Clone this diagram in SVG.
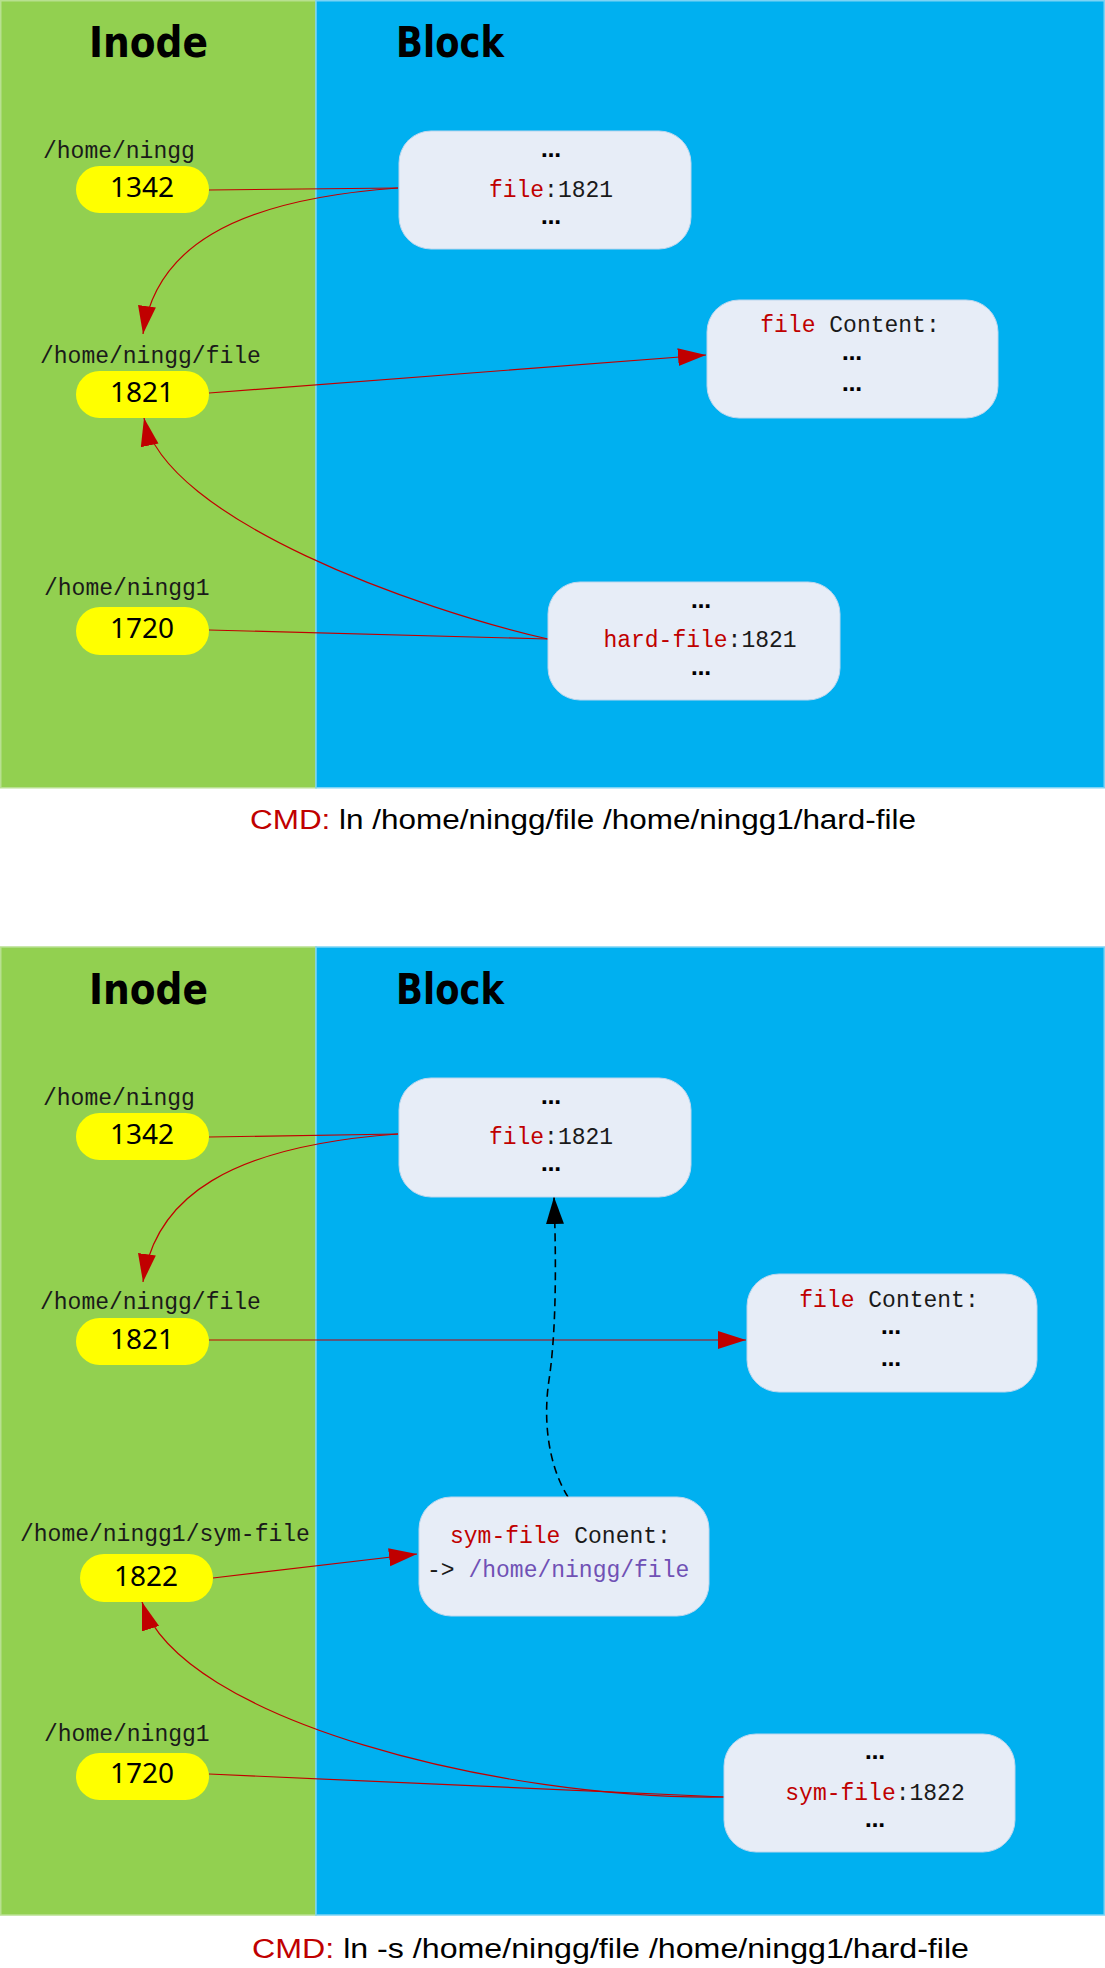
<svg xmlns="http://www.w3.org/2000/svg" width="1105" height="1968" viewBox="0 0 1105 1968">
<style>
.pg{fill:#92D050;stroke:#B8E090;stroke-width:1.5}
.pb{fill:#00B0F0;stroke:#7CD3F5;stroke-width:1.5}
.title{font-family:"DejaVu Sans",sans-serif;font-weight:bold;font-size:42px;fill:#000}
.pill{fill:#FFFF00}
.num{font-family:"Noto Sans","DejaVu Sans",sans-serif;font-size:28px;fill:#000;text-anchor:middle}
.lbl{font-family:"Liberation Mono","DejaVu Sans Mono",monospace;font-size:23px;fill:#1a1a1a}
.blk{fill:#E7EDF7;stroke:#BCD6EE;stroke-width:1}
.mono{font-family:"Liberation Mono","DejaVu Sans Mono",monospace;font-size:23px;fill:#1a1a1a}
.dots{font-family:"DejaVu Sans",sans-serif;font-weight:bold;font-size:20px;fill:#000;text-anchor:middle}
.red{fill:#C00000}
.pur{fill:#7051B5}
.cmd{font-family:"Liberation Sans","DejaVu Sans",sans-serif;font-size:27px;fill:#000}
.ln{fill:none;stroke:#C00000;stroke-width:1.2}
.dash{fill:none;stroke:#000;stroke-width:1.6;stroke-dasharray:8,5}
</style>
<defs>
<marker id="ar" markerUnits="userSpaceOnUse" markerWidth="30" markerHeight="20" refX="28" refY="9" orient="auto"><path d="M0,0 L28,9 L0,18 z" fill="#C00000"/></marker>
<marker id="ab" markerUnits="userSpaceOnUse" markerWidth="30" markerHeight="20" refX="27" refY="9" orient="auto"><path d="M0,0 L27,9 L0,18 z" fill="#000"/></marker>
</defs>
<rect width="1105" height="1968" fill="#fff"/>

<!-- ===== Top diagram ===== -->
<g id="panels-top">
<rect class="pg" x="0.75" y="0.75" width="315.25" height="787"/>
<rect class="pb" x="316" y="0.75" width="788.25" height="787"/>
<text class="title" x="89" y="57" textLength="119" lengthAdjust="spacingAndGlyphs">Inode</text>
<text class="title" x="396" y="57" textLength="108" lengthAdjust="spacingAndGlyphs">Block</text>
</g>

<g id="connectors-top">
<path class="ln" d="M209,190 L398,188"/>
<path class="ln" d="M398,188 C230,200 155,250 143,334" marker-end="url(#ar)"/>
<path class="ln" d="M209,393 L706,355" marker-end="url(#ar)"/>
<path class="ln" d="M209,630 L548,639"/>
<path class="ln" d="M548,639 C420,610 165,520 144,418" marker-end="url(#ar)"/>
</g>

<g id="inode-1342-top">
<text class="lbl" x="43" y="158">/home/ningg</text>
<rect class="pill" x="76" y="166" width="133" height="47" rx="23.5"/>
<text class="num" x="142" y="197">1342</text>
</g>
<g id="inode-1821-top">
<text class="lbl" x="40" y="363">/home/ningg/file</text>
<rect class="pill" x="76" y="371" width="133" height="47" rx="23.5"/>
<text class="num" x="142" y="402">1821</text>
</g>
<g id="inode-1720-top">
<text class="lbl" x="44" y="595">/home/ningg1</text>
<rect class="pill" x="76" y="607" width="133" height="48" rx="24"/>
<text class="num" x="142" y="638">1720</text>
</g>
<g id="block-dir-top">
<rect class="blk" x="399" y="131" width="292" height="118" rx="32"/>
<text class="dots" x="551" y="157">…</text>
<text class="mono" x="551" y="197" text-anchor="middle"><tspan class="red">file</tspan>:1821</text>
<text class="dots" x="551" y="224">…</text>
</g>
<g id="block-content-top">
<rect class="blk" x="707" y="300" width="291" height="118" rx="32"/>
<text class="mono" x="850" y="332" text-anchor="middle"><tspan class="red">file</tspan> Content:</text>
<text class="dots" x="852" y="360">…</text>
<text class="dots" x="852" y="391">…</text>
</g>
<g id="block-hard-top">
<rect class="blk" x="548" y="582" width="292" height="118" rx="32"/>
<text class="dots" x="701" y="608">…</text>
<text class="mono" x="700" y="647" text-anchor="middle"><tspan class="red">hard-file</tspan>:1821</text>
<text class="dots" x="701" y="675">…</text>
</g>
<g id="cmd-top">
<text class="cmd" x="250" y="829" textLength="666" lengthAdjust="spacingAndGlyphs"><tspan class="red">CMD:</tspan> ln /home/ningg/file /home/ningg1/hard-file</text>
</g>

<!-- ===== Bottom diagram ===== -->
<g id="panels-bottom">
<rect class="pg" x="0.75" y="947" width="315.25" height="968"/>
<rect class="pb" x="316" y="947" width="788.25" height="968"/>
<text class="title" x="89" y="1004" textLength="119" lengthAdjust="spacingAndGlyphs">Inode</text>
<text class="title" x="396" y="1004" textLength="108" lengthAdjust="spacingAndGlyphs">Block</text>
</g>

<g id="connectors-bottom">
<path class="ln" d="M209,1137 L398,1134"/>
<path class="ln" d="M398,1134 C230,1146 155,1197 143,1282" marker-end="url(#ar)"/>
<path class="ln" d="M209,1340 L746,1340" marker-end="url(#ar)"/>
<path class="ln" d="M213,1578 L417,1554" marker-end="url(#ar)"/>
<path class="ln" d="M209,1774 L724,1797"/>
<path class="ln" d="M724,1797 C500,1800 180,1720 142,1602" marker-end="url(#ar)"/>
<path class="dash" d="M568,1497 C548,1465 543,1420 549,1380 C555,1340 557,1280 554,1197" marker-end="url(#ab)"/>
</g>

<g id="inode-1342-bottom">
<text class="lbl" x="43" y="1105">/home/ningg</text>
<rect class="pill" x="76" y="1113" width="133" height="47" rx="23.5"/>
<text class="num" x="142" y="1144">1342</text>
</g>
<g id="inode-1821-bottom">
<text class="lbl" x="40" y="1309">/home/ningg/file</text>
<rect class="pill" x="76" y="1318" width="133" height="47" rx="23.5"/>
<text class="num" x="142" y="1349">1821</text>
</g>
<g id="inode-1822-bottom">
<text class="lbl" x="20" y="1541">/home/ningg1/sym-file</text>
<rect class="pill" x="80" y="1554" width="133" height="48" rx="24"/>
<text class="num" x="146" y="1586">1822</text>
</g>
<g id="inode-1720-bottom">
<text class="lbl" x="44" y="1741">/home/ningg1</text>
<rect class="pill" x="76" y="1753" width="133" height="47" rx="23.5"/>
<text class="num" x="142" y="1783">1720</text>
</g>
<g id="block-dir-bottom">
<rect class="blk" x="399" y="1078" width="292" height="119" rx="32"/>
<text class="dots" x="551" y="1104">…</text>
<text class="mono" x="551" y="1144" text-anchor="middle"><tspan class="red">file</tspan>:1821</text>
<text class="dots" x="551" y="1171">…</text>
</g>
<g id="block-content-bottom">
<rect class="blk" x="747" y="1274" width="290" height="118" rx="32"/>
<text class="mono" x="889" y="1307" text-anchor="middle"><tspan class="red">file</tspan> Content:</text>
<text class="dots" x="891" y="1334">…</text>
<text class="dots" x="891" y="1366">…</text>
</g>
<g id="block-symcontent-bottom">
<rect class="blk" x="419" y="1497" width="290" height="119" rx="32"/>
<text class="mono" x="450" y="1543"><tspan class="red">sym-file</tspan> Conent:</text>
<text class="mono" x="427" y="1577">-&gt; <tspan class="pur">/home/ningg/file</tspan></text>
</g>
<g id="block-sym-bottom">
<rect class="blk" x="724" y="1734" width="291" height="118" rx="32"/>
<text class="dots" x="875" y="1759">…</text>
<text class="mono" x="875" y="1800" text-anchor="middle"><tspan class="red">sym-file</tspan>:1822</text>
<text class="dots" x="875" y="1827">…</text>
</g>
<g id="cmd-bottom">
<text class="cmd" x="252" y="1958" textLength="717" lengthAdjust="spacingAndGlyphs"><tspan class="red">CMD:</tspan> ln -s /home/ningg/file  /home/ningg1/hard-file</text>
</g>
</svg>
